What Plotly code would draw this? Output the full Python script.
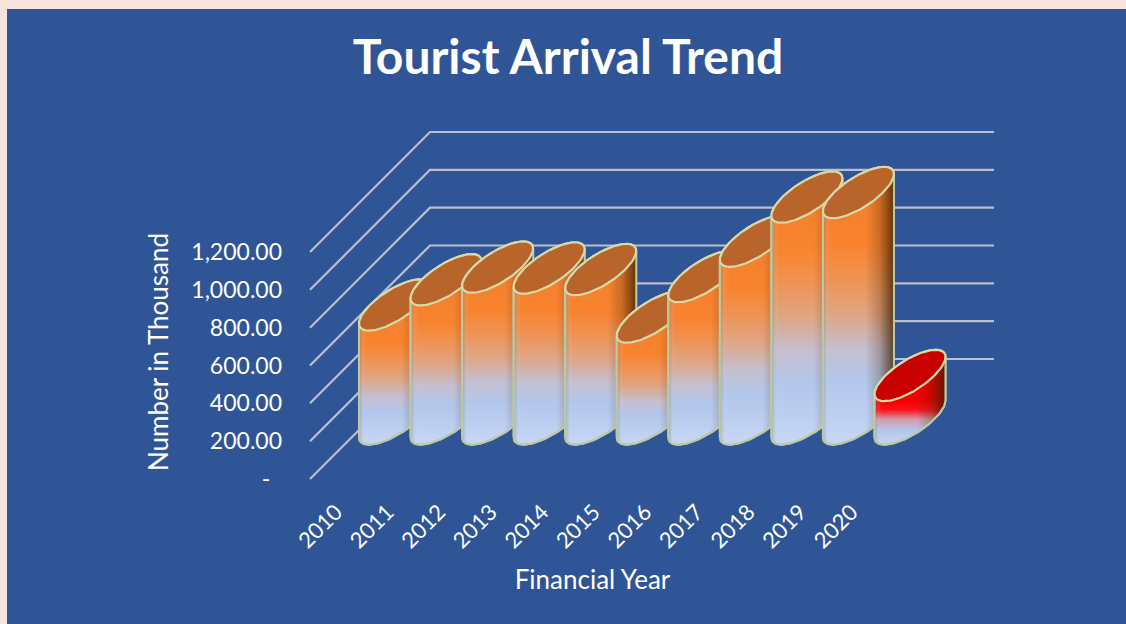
import numpy as np
import plotly.graph_objects as go

# Tourist arrivals per financial year, in thousands
years = ["2010", "2011", "2012", "2013", "2014", "2015", "2016", "2017", "2018", "2019", "2020"]
arrivals = [603, 736, 803, 798, 790, 539, 753, 940, 1173, 1197, 230]
value_ticks = [0, 200, 400, 600, 800, 1000, 1200]
value_labels = ["-\u00a0\u00a0", "200.00", "400.00", "600.00", "800.00", "1,000.00", "1,200.00"]

WIDTH, HEIGHT = 1126, 624
PANEL_LEFT, PANEL_TOP = 7, 9
FONT = "Lato"
BLUE = "#2f5597"
PINK = "#f6e4dd"
WHITE = "#ffffff"
GRID = "#b9bfcb"
EDGE = "#bcc9a2"

# Scale of the category and value axes, in pixels per unit
PX_PER_YEAR = 51.55
PX_PER_VALUE = 227 / 1200
FIRST_TICK_PX = 336.0
ZERO_PX = 479.0
DOMAIN_X_PX = (59, WIDTH)
DOMAIN_Y_PX = (80, HEIGHT)

# Oblique depth of the floor, and the cylinder cross-section
DEPTH_PX = 120.0
GRID_END_YEAR = (994 - FIRST_TICK_PX) / PX_PER_YEAR
WALL_YEAR = (310 - FIRST_TICK_PX) / PX_PER_YEAR
RX_PX, RD_PX = 24.5, 25.7
PHI = np.arctan2(RD_PX, RX_PX)


def ring(cx, value, t):
    """Oblique projection of a horizontal circle at a given height."""
    x = cx + (RX_PX * np.cos(t) + RD_PX * np.sin(t)) / PX_PER_YEAR
    y = value + RD_PX * np.sin(t) / PX_PER_VALUE
    return x, y


# Gradient stops as fractions of the height of the cylinder's front edge
ORANGE_BODY = [(0, "#c8d7f5"), (0.14, "#bccef0"), (0.28, "#b2c7ec"), (0.42, "#c4bfd0"),
               (0.58, "#dfa583"), (0.74, "#ef9252"), (0.88, "#f88430"), (1, "#f7822e")]
RED_BODY = [(0, "#c6d5f3"), (0.34, "#b4c6e8"), (0.58, "#d49aac"), (0.80, "#f8141c"), (1, "#f40000")]
SHADE = [[0, "rgba(90,100,90,0.30)"], [0.10, "rgba(255,255,255,0)"], [0.60, "rgba(70,35,0,0)"],
         [0.80, "rgba(70,35,0,0.26)"], [1, "rgba(55,28,0,0.78)"]]


def body_scale(stops, value):
    """Rescale stops so they follow the front edge rather than the full silhouette."""
    front = value * PX_PER_VALUE
    factor = front / (front + 2 * RD_PX)
    scale = [[f * factor, c] for f, c in stops]
    scale.append([1, stops[-1][1]])
    return scale


fig = go.Figure()

# Floor and side wall lines, continuing along the back wall
for v in value_ticks:
    dy = DEPTH_PX / PX_PER_VALUE
    dx = DEPTH_PX / PX_PER_YEAR
    fig.add_trace(go.Scatter(
        x=[WALL_YEAR, WALL_YEAR + dx, GRID_END_YEAR],
        y=[v, v + dy, v + dy],
        mode="lines", line=dict(color=GRID, width=2.2),
        showlegend=False, hoverinfo="skip",
    ))

# Cylinders, left to right so each one overlaps its left neighbour
for i, (year, value) in enumerate(zip(years, arrivals)):
    cx = i + (DEPTH_PX / 2) / PX_PER_YEAR - (FIRST_TICK_PX - 310 - RX_PX) / PX_PER_YEAR
    cy = (DEPTH_PX / 2) / PX_PER_VALUE
    t_base = np.linspace(PHI + np.pi, PHI + 2 * np.pi, 60)
    t_top = np.linspace(PHI, PHI + np.pi, 60)
    bx, by = ring(cx, cy, t_base)
    tx, ty = ring(cx, cy + value, t_top)
    sx = np.concatenate([bx, tx, bx[:1]])
    sy = np.concatenate([by, ty, by[:1]])
    is_low = year == "2020"

    fig.add_trace(go.Scatter(
        x=sx, y=sy, mode="lines", fill="toself",
        line=dict(color=EDGE, width=2),
        fillgradient=dict(type="vertical", colorscale=body_scale(RED_BODY if is_low else ORANGE_BODY, value)),
        showlegend=False, hoverinfo="skip",
    ))
    fig.add_trace(go.Scatter(
        x=sx, y=sy, mode="lines", fill="toself",
        line=dict(color=EDGE, width=2),
        fillgradient=dict(type="horizontal", colorscale=SHADE),
        showlegend=False, hoverinfo="skip",
    ))
    ex, ey = ring(cx, cy + value, np.linspace(0, 2 * np.pi, 121))
    fig.add_trace(go.Scatter(
        x=ex, y=ey, mode="lines", fill="toself",
        fillcolor="#c80000" if is_low else "#b8642a",
        line=dict(color="#d6d9a8", width=2.2),
        showlegend=False, hoverinfo="skip",
    ))

plot_w = WIDTH - PANEL_LEFT
plot_h = HEIGHT - PANEL_TOP
x_domain = [(DOMAIN_X_PX[0] - PANEL_LEFT) / plot_w, 1]
y_domain = [0, (HEIGHT - DOMAIN_Y_PX[0]) / plot_h]

fig.update_layout(
    width=WIDTH, height=HEIGHT,
    margin=dict(l=PANEL_LEFT, r=0, t=PANEL_TOP, b=0, pad=0),
    paper_bgcolor=PINK, plot_bgcolor=BLUE,
    showlegend=False, hovermode=False,
    font=dict(family=FONT, color=WHITE),
    # The blue panel fills everything inside the pale page margin
    shapes=[dict(type="rect", xref="paper", yref="paper", x0=0, x1=1, y0=0, y1=1,
                 fillcolor=BLUE, line=dict(width=0), layer="below")],
    title=dict(text="<b>Tourist Arrival Trend</b>", font=dict(family=FONT, size=48, color=WHITE),
               x=568 / WIDTH, xanchor="center", y=1 - 57 / HEIGHT, yanchor="middle", xref="container", yref="container"),
    xaxis=dict(
        domain=x_domain,
        range=[(DOMAIN_X_PX[0] - FIRST_TICK_PX) / PX_PER_YEAR, (DOMAIN_X_PX[1] - FIRST_TICK_PX) / PX_PER_YEAR],
        tickmode="array", tickvals=list(range(len(years))), ticktext=years,
        tickangle=-45, tickfont=dict(size=22, color=WHITE, family=FONT),
        showgrid=False, zeroline=False, showline=False, ticks="", automargin=False,
        anchor="free", position=(HEIGHT - 494) / plot_h,
        title=dict(text="Financial Year", font=dict(size=26, color=WHITE, family=FONT), standoff=18),
    ),
    yaxis=dict(
        domain=y_domain,
        range=[(ZERO_PX - DOMAIN_Y_PX[1]) / PX_PER_VALUE, (ZERO_PX - DOMAIN_Y_PX[0]) / PX_PER_VALUE],
        tickmode="array", tickvals=value_ticks, ticktext=value_labels,
        tickfont=dict(size=23, color=WHITE, family=FONT),
        showgrid=False, zeroline=False, showline=False, ticks="", automargin=False,
        anchor="free", position=(282 - PANEL_LEFT) / plot_w,
        title=dict(text="Number in Thousand", font=dict(size=26, color=WHITE, family=FONT), standoff=14),
    ),
)

fig.write_html("out.html", config=dict(displayModeBar=False))
